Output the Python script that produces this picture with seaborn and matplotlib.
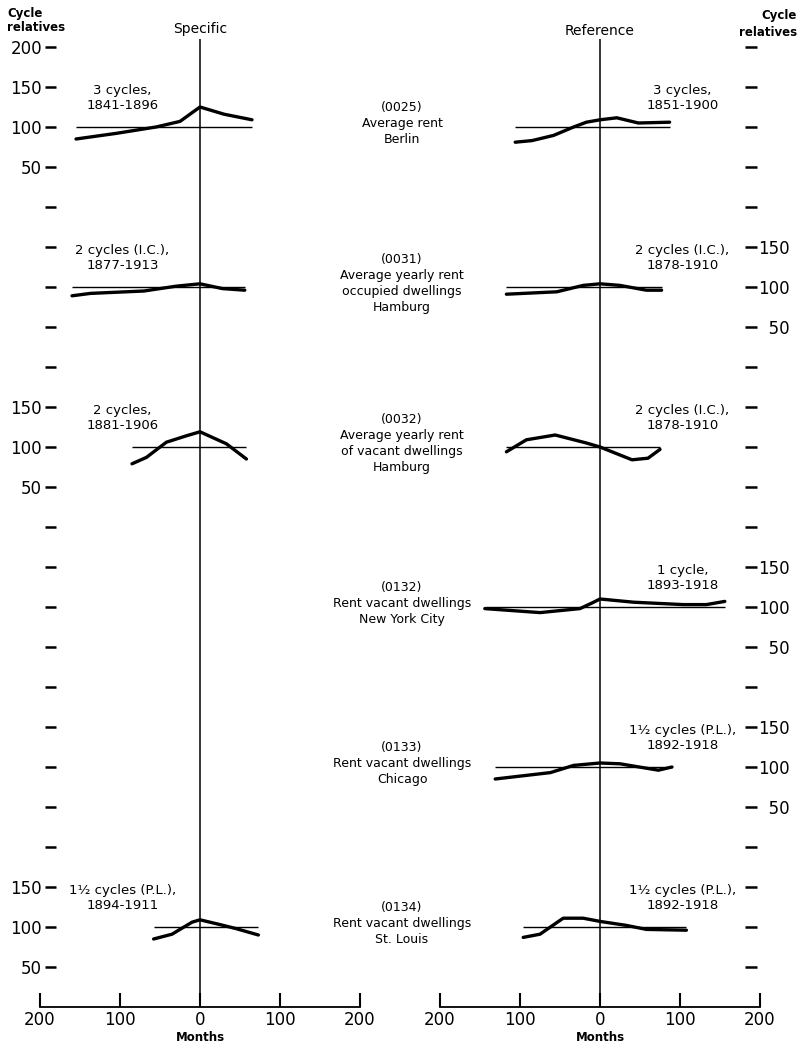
import numpy as np
import pandas as pd
import matplotlib
matplotlib.use('Agg')
import matplotlib.pyplot as plt
import seaborn as sns

# series, top to bottom
codes = ['(0025)', '(0031)', '(0032)', '(0132)', '(0133)', '(0134)']
captions = [
    'Average rent\nBerlin',
    'Average yearly rent\noccupied dwellings\nHamburg',
    'Average yearly rent\nof vacant dwellings\nHamburg',
    'Rent vacant dwellings\nNew York City',
    'Rent vacant dwellings\nChicago',
    'Rent vacant dwellings\nSt. Louis',
]
spec_notes = ['3 cycles,\n1841-1896', '2 cycles (I.C.),\n1877-1913', '2 cycles,\n1881-1906',
              None, None, '1½ cycles (P.L.),\n1894-1911']
ref_notes = ['3 cycles,\n1851-1900', '2 cycles (I.C.),\n1878-1910', '2 cycles (I.C.),\n1878-1910',
             '1 cycle,\n1893-1918', '1½ cycles (P.L.),\n1892-1918', '1½ cycles (P.L.),\n1892-1918']

# specific cycle patterns: months from peak, cycle relatives
berlin_spec_m = [-155, -105, -55, -25, 0, 30, 65]
berlin_spec_v = [85, 92, 100, 107, 125, 116, 109]
hamb_occ_spec_m = [-160, -137, -70, -30, 0, 28, 56]
hamb_occ_spec_v = [89, 92, 95, 101, 104, 98, 96]
hamb_vac_spec_m = [-85, -67, -42, -17, 0, 33, 58]
hamb_vac_spec_v = [79, 87, 106, 114, 119, 104, 85]
stl_spec_m = [-58, -35, -10, 0, 25, 45, 73]
stl_spec_v = [85, 91, 106, 109, 103, 98, 90]

# reference cycle patterns: months from reference peak
berlin_ref_m = [-106, -85, -58, -33, -17, 0, 21, 48, 87]
berlin_ref_v = [81, 83, 89.5, 100, 106, 109, 111.5, 105, 106]
hamb_occ_ref_m = [-117, -54, -21, 0, 25, 58, 77]
hamb_occ_ref_v = [91, 94, 102, 104, 102, 96, 96]
hamb_vac_ref_m = [-117, -92, -56, -17, 0, 40, 60, 75]
hamb_vac_ref_v = [94, 109, 115, 105, 100, 84, 86, 97]
nyc_ref_m = [-144, -75, -25, -10, 0, 42, 104, 133, 156]
nyc_ref_v = [98, 93, 98, 105, 110, 106, 103, 103, 107]
chi_ref_m = [-131, -62, -33, 0, 25, 73, 90]
chi_ref_v = [85, 93, 102, 105, 104, 96, 100]
stl_ref_m = [-96, -75, -46, -21, 0, 33, 58, 108]
stl_ref_v = [87, 91, 111, 111, 107, 102, 97, 96]

spec_series = [(0, berlin_spec_m, berlin_spec_v), (1, hamb_occ_spec_m, hamb_occ_spec_v),
               (2, hamb_vac_spec_m, hamb_vac_spec_v), (5, stl_spec_m, stl_spec_v)]
ref_series = [(0, berlin_ref_m, berlin_ref_v), (1, hamb_occ_ref_m, hamb_occ_ref_v),
              (2, hamb_vac_ref_m, hamb_vac_ref_v), (3, nyc_ref_m, nyc_ref_v),
              (4, chi_ref_m, chi_ref_v), (5, stl_ref_m, stl_ref_v)]

N_ROWS = 6
ROW_GAP = 200


def offset(k):
    # each row is shifted so the rows stack on one vertical scale
    return ROW_GAP * (N_ROWS - 1 - k)


def to_frame(series):
    parts = []
    for k, m, v in series:
        parts.append(pd.DataFrame({'month': m, 'level': np.array(v) + offset(k), 'row': k}))
    return pd.concat(parts, ignore_index=True)


spec_df = to_frame(spec_series)
ref_df = to_frame(ref_series)

sns.set_style('white')
plt.rcParams['font.family'] = ['DejaVu Sans']
for key in ['text.color', 'axes.labelcolor', 'xtick.color', 'ytick.color', 'axes.edgecolor']:
    plt.rcParams[key] = 'black'

fig = plt.figure(figsize=(8.02, 10.47), dpi=100)
W, H = 802, 1047
ax_l = fig.add_axes([40 / W, 40 / H, 320 / W, 968 / H])
ax_r = fig.add_axes([440 / W, 40 / H, 320 / W, 968 / H])

ticks = np.arange(50, 1201, 50)


def tick_labels(rows, pad=False):
    labs = []
    for g in ticks:
        lab = ''
        for k in rows:
            rel = g - offset(k)
            if 50 <= rel <= 150 or (k == 0 and rel == 200):
                lab = f'{rel:>3}'.replace(' ', '\u2007') if pad else str(rel)
        labs.append(lab)
    return labs


for ax, df, series, notes, note_x in [(ax_l, spec_df, spec_series, spec_notes, -97),
                                       (ax_r, ref_df, ref_series, ref_notes, 103)]:
    ax.patch.set_alpha(0)
    ax.axvline(0, color='black', lw=1.1, zorder=1)
    for k, m, v in series:
        ax.hlines(100 + offset(k), min(m), max(m), color='black', lw=1.0, zorder=2)
    sns.lineplot(data=df, x='month', y='level', units='row', estimator=None, sort=False,
                 color='black', linewidth=2.4, ax=ax, legend=False, zorder=3)
    for k, note in enumerate(notes):
        if note:
            ax.text(note_x, 136 + offset(k), note, ha='center', va='center',
                    fontsize=9.5, linespacing=1.15, clip_on=False)
    ax.set_xlim(-200, 200)
    ax.set_ylim(0, 1210)
    for s in ['top', 'left', 'right']:
        ax.spines[s].set_visible(False)
    ax.spines['bottom'].set_linewidth(1.3)
    ax.set_xticks([-200, -100, 0, 100, 200])
    ax.set_xticklabels(['200', '100', '0', '100', '200'])
    ax.tick_params(axis='x', bottom=True, direction='in', length=10, width=1.5,
                   labelsize=12, pad=3)
    ax.set_xlabel('Months', fontsize=8.5, fontweight='bold', labelpad=1)
    ax.set_ylabel('')
    ax.set_yticks(ticks)

# left scale
ax_l.spines['left'].set_position(('data', -180))
ax_l.set_yticklabels(tick_labels([0, 2, 5]))
ax_l.tick_params(axis='y', left=True, direction='out', length=8, width=1.8, labelsize=12, pad=2)

# right scale
ax_r.yaxis.tick_right()
ax_r.spines['right'].set_position(('data', 196))
ax_r.set_yticklabels(tick_labels([1, 3, 4], pad=True))
ax_r.tick_params(axis='y', right=True, direction='in', length=8.5, width=1.8, labelsize=12, pad=1)

# captions between the panels
for k in range(N_ROWS):
    ax_l.text(252.5, 104 + offset(k), codes[k] + '\n' + captions[k], ha='center', va='center',
              fontsize=9, linespacing=1.3, clip_on=False)

ax_l.text(0, 1222, 'Specific', ha='center', va='center', fontsize=10, clip_on=False)
ax_r.text(0, 1220, 'Reference', ha='center', va='center', fontsize=10, clip_on=False)
fig.text(7 / W, 1 - 20.5 / H, 'Cycle\nrelatives', ha='left', va='center',
         fontsize=8.5, fontweight='bold', linespacing=1.1)
fig.text(797 / W, 1 - 24 / H, 'Cycle\nrelatives', ha='right', va='center', multialignment='right',
         fontsize=8.5, fontweight='bold', linespacing=1.3)

fig.savefig('out.png', dpi=100)
